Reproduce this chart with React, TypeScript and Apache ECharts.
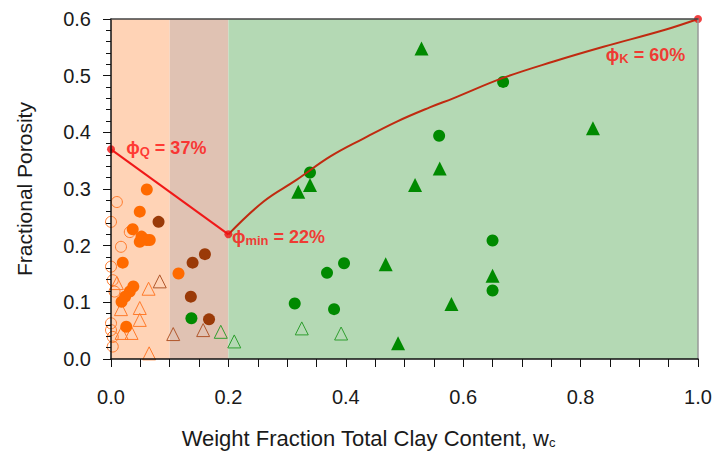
import React, { useEffect, useRef } from "react";
import * as echarts from "echarts";

// ---------- data ----------
const bandEdges = [0, 0.1, 0.2, 1.0]; // Arenites | Wackes | Shales zones (w_c)
const bandNames = ["Arenites", "Wackes", "Shales"];

const xTicks = [0, 0.2, 0.4, 0.6, 0.8, 1.0];
const yTicks = [0, 0.1, 0.2, 0.3, 0.4, 0.5, 0.6];

const arenitesOutcrop: number[][] = [
  [0.061, 0.299], [0.049, 0.26], [0.037, 0.229], [0.052, 0.216], [0.061, 0.21],
  [0.066, 0.21], [0.049, 0.207], [0.02, 0.17], [0.115, 0.151], [0.038, 0.128],
  [0.032, 0.119], [0.024, 0.11], [0.018, 0.101], [0.026, 0.057],
];
const arenitesOpenCircle: number[][] = [
  [0.01, 0.277], [0.0, 0.242], [0.032, 0.224], [0.017, 0.198], [0.0, 0.163],
  [0.003, 0.139], [0.006, 0.119], [0.0, 0.063], [0.0, 0.051], [0.003, 0.039],
  [0.003, 0.022],
];
const arenitesOpenTriangle: number[][] = [
  [0.01, 0.134], [0.064, 0.124], [0.017, 0.088], [0.049, 0.09], [0.049, 0.069],
  [0.018, 0.046], [0.035, 0.046], [0.065, 0.01],
];
const wackesOutcrop: number[][] = [
  [0.081, 0.242], [0.16, 0.185], [0.139, 0.17], [0.136, 0.11], [0.167, 0.07],
];
const wackesOpenTriangle: number[][] = [
  [0.083, 0.137], [0.106, 0.044], [0.157, 0.051],
];
const shalesOutcrop: number[][] = [
  [0.137, 0.072], [0.339, 0.329], [0.668, 0.489], [0.559, 0.394], [0.65, 0.209],
  [0.65, 0.121], [0.397, 0.169], [0.368, 0.152], [0.313, 0.098], [0.38, 0.088],
];
const shalesReservoir: number[][] = [
  [0.529, 0.548], [0.339, 0.307], [0.319, 0.295], [0.518, 0.307], [0.821, 0.407],
  [0.56, 0.336], [0.65, 0.147], [0.58, 0.097], [0.468, 0.167], [0.489, 0.028],
];
const shalesOpenTriangle: number[][] = [
  [0.187, 0.048], [0.21, 0.031], [0.325, 0.054], [0.392, 0.045],
];

// porosity model lines
const sandClayLine: number[][] = [[0, 0.37], [0.2, 0.22]];
const shaleCurve: number[][] = [
  [0.2, 0.22], [0.26, 0.278], [0.316, 0.316], [0.373, 0.357], [0.43, 0.389],
  [0.487, 0.419], [0.543, 0.444], [0.583, 0.46], [0.668, 0.496], [0.754, 0.525],
  [0.839, 0.551], [0.944, 0.581], [1.0, 0.6],
];
const endMembers: number[][] = [[0, 0.37], [0.2, 0.22], [1.0, 0.6]];

const annotationText = ["{p|ϕ}{s|Q}{p| = 37%}", "{p|ϕ}{s|min}{p| = 22%}", "{p|ϕ}{s|K}{p| = 60%}"];
const annotationAnchor: number[][] = [[0.026, 0.373], [0.206, 0.215], [0.843, 0.536]];

// ---------- styles ----------
const FONT = "'Liberation Sans', Arial, sans-serif";
const bandColors = ["#FFD3B6", "#E0C2B3", "#B4D9B4"];
const ORANGE = "#FF6A00";
const BROWN = "#9A3A08";
const GREEN = "#008A00";

export default function App() {
  const ref = useRef<HTMLDivElement>(null);
  useEffect(() => {
    const chart = echarts.init(ref.current!, null, { renderer: "svg" });
    const bandData = bandNames.map((n, i) => [
      { name: n, xAxis: bandEdges[i], itemStyle: { color: bandColors[i], opacity: 1 } },
      { xAxis: bandEdges[i + 1] },
    ]);
    const rich = {
      p: { fontSize: 18, fontWeight: "bold", color: "#FF1010", fontFamily: FONT, lineHeight: 20 },
      s: { fontSize: 13, fontWeight: "bold", color: "#FF1010", fontFamily: FONT, lineHeight: 10, verticalAlign: "bottom" },
    };
    const scatter = (data: number[][], symbol: string, color: string, size: number, filled: boolean) => ({
      type: "scatter",
      data,
      symbol,
      symbolSize: size,
      clip: false,
      z: 4,
      itemStyle: filled
        ? { color, opacity: 1 }
        : { color: "transparent", borderColor: color, borderWidth: 1, opacity: 1 },
    });
    const option: any = {
      animation: false,
      backgroundColor: "#fff",
      grid: { left: 111, right: 22, top: 19, bottom: 107 },
      xAxis: [
        {
          type: "value", min: 0, max: 1, interval: 0.2, z: 10,
          axisLine: { show: true, onZero: false, lineStyle: { color: "#111", width: 1.5 } },
          axisTick: { show: true, length: 8, lineStyle: { color: "#111" } },
          minorTick: { show: true, splitNumber: 4, length: 8, lineStyle: { color: "#111" } },
          splitLine: { show: false },
          axisLabel: {
            formatter: (v: number) => (xTicks.some((t) => Math.abs(t - v) < 1e-9) ? v.toFixed(1) : ""),
            fontSize: 20, color: "#1a1a1a", margin: 28, fontFamily: FONT,
          },
          name: "Weight Fraction Total Clay Content, w{sub|c}",
          nameLocation: "middle", nameGap: 68,
          nameTextStyle: {
            fontSize: 22, color: "#1a1a1a", fontFamily: FONT, padding: [0, 72, 0, 0],
            rich: { sub: { fontSize: 13, color: "#1a1a1a", fontFamily: FONT, verticalAlign: "bottom", lineHeight: 12 } },
          },
        },
        {
          type: "value", position: "top", min: 0, max: 1, z: 10,
          axisLine: { show: true, onZero: false, lineStyle: { color: "#444", width: 1.5 } },
          axisTick: { show: false }, axisLabel: { show: false }, splitLine: { show: false },
        },
      ],
      yAxis: [
        {
          type: "value", min: 0, max: 0.6, interval: 0.1, z: 10,
          axisLine: { show: true, onZero: false, lineStyle: { color: "#111", width: 1.5 } },
          axisTick: { show: true, length: 8, lineStyle: { color: "#111" } },
          minorTick: { show: true, splitNumber: 5, length: 5, lineStyle: { color: "#111" } },
          splitLine: { show: false },
          axisLabel: {
            formatter: (v: number) => (yTicks.some((t) => Math.abs(t - v) < 1e-9) ? v.toFixed(1) : ""),
            fontSize: 20, color: "#1a1a1a", margin: 20, fontFamily: FONT,
          },
          name: "Fractional Porosity",
          nameLocation: "middle", nameGap: 76,
          nameTextStyle: { fontSize: 21, color: "#1a1a1a", fontFamily: FONT },
        },
        {
          type: "value", position: "right", min: 0, max: 0.6, z: 10,
          axisLine: { show: true, onZero: false, lineStyle: { color: "#999", width: 1.5 } },
          axisTick: { show: false }, axisLabel: { show: false }, splitLine: { show: false },
        },
      ],
      series: [
        {
          type: "scatter", data: [], z: 1, silent: true,
          markArea: { silent: true, data: bandData, label: { show: false } },
        },
        scatter(arenitesOpenCircle, "circle", "#FF7A2A", 11, false),
        scatter(arenitesOpenTriangle, "triangle", "#FF7A2A", 13, false),
        scatter(wackesOpenTriangle, "triangle", "#B0562A", 13, false),
        scatter(shalesOpenTriangle, "triangle", "#2E9E2E", 13, false),
        scatter(arenitesOutcrop, "circle", ORANGE, 12, true),
        scatter(wackesOutcrop, "circle", BROWN, 12, true),
        scatter(shalesOutcrop, "circle", GREEN, 12, true),
        scatter(shalesReservoir, "triangle", GREEN, 14, true),
        {
          type: "line", data: sandClayLine, showSymbol: false, z: 5,
          lineStyle: { color: "#F01818", width: 2 },
        },
        {
          type: "line", data: shaleCurve, smooth: 0.4, showSymbol: false, z: 5,
          lineStyle: { color: "#C02A10", width: 2 },
        },
        {
          type: "scatter", data: endMembers, symbol: "circle", symbolSize: 8, clip: false, z: 6,
          itemStyle: { color: "#EE1111" },
        },
        {
          type: "scatter", symbolSize: 0, z: 7, clip: false,
          data: annotationAnchor.map((v, i) => ({
            value: v,
            label: { show: true, position: "right", distance: 0, formatter: annotationText[i], rich },
          })),
        },
      ],
      graphic: [
        {
          type: "group", left: 592, top: 232, z: 20,
          children: [
            { type: "rect", shape: { x: 0, y: 0, width: 74, height: 64 }, style: { fill: "#fff", stroke: "#777", lineWidth: 1 } },
            { type: "text", x: 37, y: 12, style: { text: "Arenites", fill: "#FF8030", font: `bold 14px ${FONT}`, align: "center", verticalAlign: "middle" } },
            { type: "text", x: 37, y: 32, style: { text: "Wackes", fill: "#8E3A12", font: `bold 14px ${FONT}`, align: "center", verticalAlign: "middle" } },
            { type: "text", x: 37, y: 51, style: { text: "Shales", fill: "#2A922A", font: `bold 14px ${FONT}`, align: "center", verticalAlign: "middle" } },
          ],
        },
        {
          type: "group", left: 557, top: 313, z: 20,
          children: [
            { type: "circle", shape: { cx: 6, cy: 7, r: 6 }, style: { fill: "#000" } },
            { type: "text", x: 20, y: 7, style: { text: "surface outcrop", fill: "#222", font: `14px ${FONT}`, verticalAlign: "middle" } },
            { type: "polygon", shape: { points: [[6, 21], [0, 32], [12, 32]] }, style: { fill: "#000" } },
            { type: "text", x: 20, y: 27, style: { text: "deep reservoir", fill: "#222", font: `14px ${FONT}`, verticalAlign: "middle" } },
          ],
        },
      ],
    };
    chart.setOption(option);
    return () => chart.dispose();
  }, []);
  return <div ref={ref} style={{ position: "absolute", left: 0, top: 0, width: 720, height: 466 }} />;
}
